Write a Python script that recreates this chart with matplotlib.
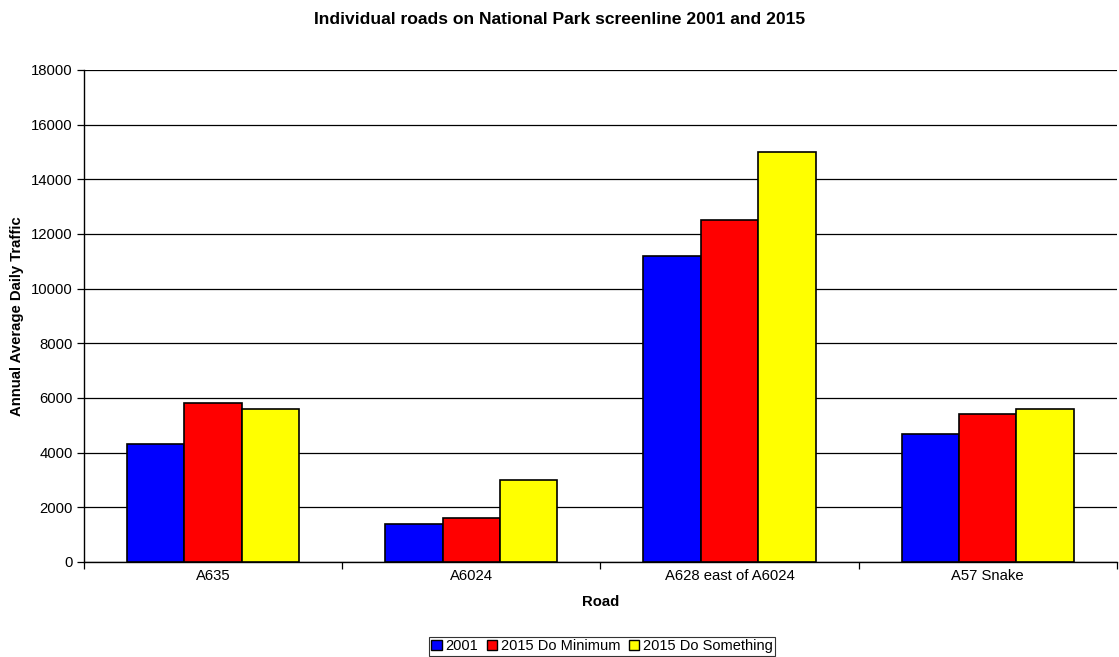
import numpy as np
import matplotlib
matplotlib.use('Agg')
import matplotlib.pyplot as plt
from matplotlib.patches import Patch

plt.rcParams['font.family'] = ['Liberation Sans', 'DejaVu Sans']

roads = ['A635', 'A6024', 'A628 east of A6024', 'A57 Snake']
series_names = ['2001', '2015 Do Minimum', '2015 Do Something']
traffic_2001 = [4300, 1400, 11200, 4700]
traffic_2015_min = [5800, 1600, 12500, 5400]
traffic_2015_some = [5600, 3000, 15000, 5600]
colors = ['#0000ff', '#ff0000', '#ffff00']

fig = plt.figure(figsize=(11.19, 6.57), dpi=100)
ax = fig.add_axes([0.0751, 0.1446, 0.9229, 0.7489])

x = np.arange(len(roads))
width = 1 / 4.5
for i, (vals, col) in enumerate(zip([traffic_2001, traffic_2015_min, traffic_2015_some], colors)):
    ax.bar(x + (i - 1) * width, vals, width, color=col, edgecolor='black',
           linewidth=1.2, zorder=3)

ax.set_xlim(-0.5, len(roads) - 0.5)
ax.set_ylim(0, 18000)
ax.set_yticks(np.arange(0, 18001, 2000))
ax.yaxis.grid(True, color='black', linewidth=0.9, zorder=0)

# category labels sit between tick marks placed on the group boundaries
ax.set_xticks(np.arange(-0.5, len(roads)), minor=False)
ax.set_xticklabels([])
ax.set_xticks(x, minor=True)
ax.set_xticklabels(roads, minor=True)
ax.tick_params(axis='x', which='minor', length=0, pad=5, labelsize=10.7)
ax.tick_params(axis='x', which='major', length=5, direction='out', width=0.9)
ax.tick_params(axis='y', length=5, direction='out', width=0.9, labelsize=10.7, pad=3)

for side in ['top', 'right']:
    ax.spines[side].set_visible(False)
ax.spines['left'].set_linewidth(1.0)
ax.spines['bottom'].set_linewidth(1.0)

ax.set_xlabel('Road', fontsize=10.7, fontweight='bold', labelpad=9)
ax.set_ylabel('Annual Average Daily Traffic', fontsize=10.7, fontweight='bold', labelpad=5)
fig.suptitle('Individual roads on National Park screenline 2001 and 2015',
             fontsize=12.6, fontweight='bold', y=0.982, x=0.5)

handles = [Patch(facecolor=c, edgecolor='black', label=n) for c, n in zip(colors, series_names)]
leg = fig.legend(handles=handles, loc='lower center', bbox_to_anchor=(0.538, 0.0),
                 ncol=3, fontsize=10.5, frameon=True, fancybox=False, edgecolor='black',
                 handlelength=0.7, handleheight=0.7, handletextpad=0.25, columnspacing=0.6,
                 borderpad=0.15, borderaxespad=0.1)
leg.get_frame().set_linewidth(0.8)

fig.savefig('out.png', dpi=100)
